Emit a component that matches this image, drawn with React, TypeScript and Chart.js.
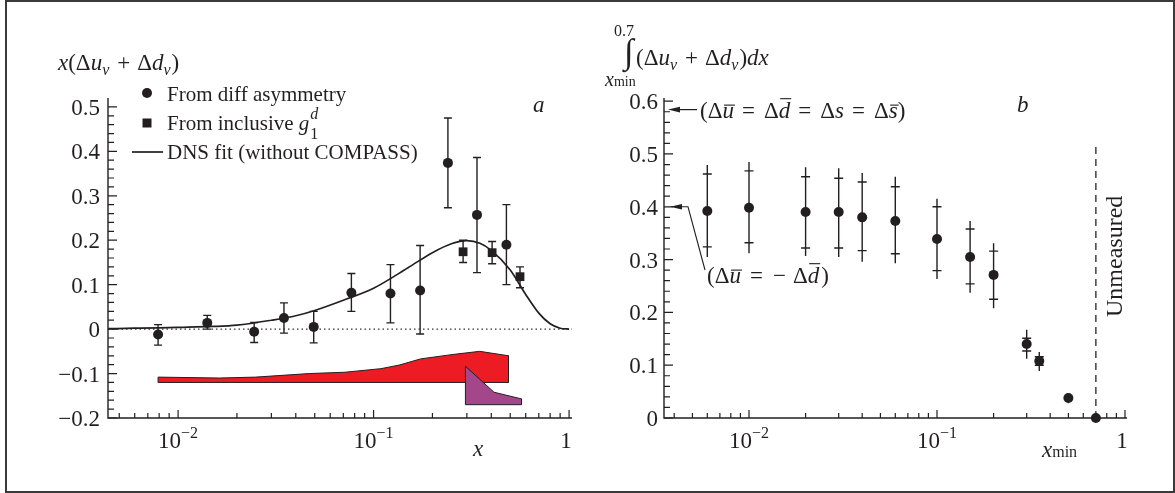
import React, { useEffect, useRef } from 'react';
import { Chart, registerables } from 'chart.js';

Chart.register(...registerables);

const SERIF = '"Liberation Serif", "Times New Roman", "DejaVu Serif", serif';
const INK = '#231f20';

// ---------- Panel a : x(Δu_v + Δd_v) ----------
const diffX = [0.0079, 0.0141, 0.0245, 0.0348, 0.0494, 0.077, 0.122, 0.173, 0.24, 0.338, 0.478];
const diffY = [-0.012, 0.014, -0.006, 0.025, 0.005, 0.082, 0.08, 0.087, 0.374, 0.257, 0.19];
const diffHi = [0.01, 0.031, 0.015, 0.059, 0.04, 0.125, 0.145, 0.188, 0.475, 0.386, 0.28];
const diffLo = [-0.036, 0.0, -0.03, -0.009, -0.031, 0.04, 0.014, -0.011, 0.273, 0.127, 0.1];

const inclX = [0.287, 0.404, 0.561];
const inclY = [0.174, 0.172, 0.118];
const inclHi = [0.2, 0.197, 0.14];
const inclLo = [0.15, 0.147, 0.093];

const fitX = [0.0044, 0.006, 0.008, 0.01, 0.015, 0.02, 0.03, 0.04, 0.05, 0.07, 0.1, 0.15, 0.2, 0.25, 0.3, 0.35, 0.4, 0.5, 0.6, 0.7, 0.8, 0.9, 1.0];
const fitY = [0.001, 0.002, 0.003, 0.004, 0.006, 0.009, 0.02, 0.03, 0.042, 0.065, 0.092, 0.138, 0.172, 0.192, 0.199, 0.193, 0.177, 0.133, 0.078, 0.036, 0.012, 0.002, 0.0];

const redBandX = [0.0079, 0.0163, 0.0249, 0.0469, 0.0714, 0.109, 0.135, 0.174, 0.255, 0.349, 0.49, 0.49, 0.0079, 0.0079];
const redBandY = [-0.108, -0.11, -0.108, -0.1, -0.097, -0.089, -0.081, -0.067, -0.057, -0.05, -0.06, -0.12, -0.12, -0.108];
const purpleBandX = [0.295, 0.413, 0.571, 0.571, 0.295, 0.295];
const purpleBandY = [-0.0835, -0.142, -0.157, -0.17, -0.17, -0.0835];

const aXMin = 0.00438;
const aXMax = 1.035;
const aYMin = -0.2;
const aYMax = 0.52;
const aYTicks = [-0.2, -0.1, 0, 0.1, 0.2, 0.3, 0.4, 0.5];
const aYTickLabels = ['\u22120.2', '\u22120.1', '0', '0.1', '0.2', '0.3', '0.4', '0.5'];

// ---------- Panel b : integral from x_min to 0.7 ----------
const intX = [0.006, 0.01, 0.02, 0.03, 0.04, 0.06, 0.1, 0.15, 0.2, 0.3, 0.35, 0.5, 0.7];
const intY = [0.392, 0.398, 0.39, 0.39, 0.38, 0.373, 0.339, 0.305, 0.271, 0.14, 0.108, 0.038, 0];
const statHi = [0.462, 0.468, 0.457, 0.454, 0.447, 0.438, 0.4, 0.358, 0.316, 0.151, 0.116, null, null];
const statLo = [0.324, 0.332, 0.322, 0.322, 0.317, 0.311, 0.279, 0.254, 0.225, 0.127, 0.1, null, null];
const totHi = [0.479, 0.485, 0.475, 0.473, 0.464, 0.457, 0.415, 0.373, 0.331, 0.167, 0.125, 0.047, null];
const totLo = [0.305, 0.312, 0.307, 0.305, 0.296, 0.293, 0.263, 0.237, 0.208, 0.112, 0.089, 0.028, null];

const unmeasuredX = 0.7;
const unmeasuredTop = 0.52;
const arrowSymY = 0.584;
const arrowAntiY = 0.4;

const bXMin = 0.00353;
const bXMax = 1.025;
const bYMin = 0;
const bYMax = 0.606;
const bYTicks = [0, 0.1, 0.2, 0.3, 0.4, 0.5, 0.6];
const bYTickLabels = ['0', '0.1', '0.2', '0.3', '0.4', '0.5', '0.6'];

const xDecadeTicks = [0.01, 0.1, 1];
const xDecadeBase = ['10', '10', '1'];
const xDecadeExp = ['\u22122', '\u22121', ''];

type Run = { t: string; it?: boolean; sub?: boolean; sup?: boolean; bar?: number; s?: number; gap?: number };

function fnt(size: number, it?: boolean) {
  return `${it ? 'italic ' : ''}${size}px ${SERIF}`;
}

function drawRuns(ctx: CanvasRenderingContext2D, runs: Run[], x: number, y: number, size: number) {
  let cx = x;
  ctx.textAlign = 'left';
  ctx.textBaseline = 'alphabetic';
  ctx.fillStyle = INK;
  for (const r of runs) {
    const sz = r.s ?? (r.sub || r.sup ? Math.round(size * 0.68) : size);
    ctx.font = fnt(sz, r.it);
    const dy = r.sub ? size * 0.22 : r.sup ? -size * 0.42 : 0;
    const w = ctx.measureText(r.t).width;
    ctx.fillText(r.t, cx, y + dy);
    if (r.bar) {
      ctx.beginPath();
      ctx.lineWidth = 1.1;
      ctx.strokeStyle = INK;
      ctx.moveTo(cx + 1.5, y - r.bar * size);
      ctx.lineTo(cx + w + 1, y - r.bar * size);
      ctx.stroke();
    }
    cx += w + (r.gap ?? 0);
  }
  return cx;
}

function drawAxes(chart: any, yTicks: number[], yLabels: string[], labelGap: number) {
  const { ctx, chartArea: ca } = chart;
  const xs = chart.scales.x;
  const ys = chart.scales.y;
  ctx.save();
  ctx.strokeStyle = INK;
  ctx.lineWidth = 1.4;
  ctx.beginPath();
  ctx.moveTo(ca.left, ca.top);
  ctx.lineTo(ca.left, ca.bottom);
  ctx.lineTo(ca.right, ca.bottom);
  ctx.stroke();

  ctx.lineWidth = 1.2;
  ctx.beginPath();
  yTicks.forEach((v, i) => {
    const py = ys.getPixelForValue(v);
    ctx.moveTo(ca.left, py);
    ctx.lineTo(ca.left + 9, py);
    if (i < yTicks.length - 1) {
      const step = (yTicks[i + 1] - v) / 5;
      for (let k = 1; k < 5; k++) {
        const p = ys.getPixelForValue(v + k * step);
        ctx.moveTo(ca.left, p);
        ctx.lineTo(ca.left + 6, p);
      }
    }
  });
  for (let e = -3; e <= 0; e++) {
    for (let m = 1; m <= 9; m++) {
      const v = m * Math.pow(10, e);
      if (v < xs.min || v > xs.max) continue;
      const px = xs.getPixelForValue(v);
      ctx.moveTo(px, ca.bottom);
      ctx.lineTo(px, ca.bottom - (m === 1 ? 8 : 5));
    }
  }
  ctx.stroke();

  ctx.fillStyle = INK;
  ctx.font = fnt(23);
  ctx.textAlign = 'right';
  ctx.textBaseline = 'alphabetic';
  yTicks.forEach((v, i) => {
    ctx.fillText(yLabels[i], ca.left - labelGap, ys.getPixelForValue(v) + 8);
  });

  ctx.textAlign = 'left';
  xDecadeTicks.forEach((v, i) => {
    const px = xs.getPixelForValue(v);
    ctx.font = fnt(23);
    const wb = ctx.measureText(xDecadeBase[i]).width;
    ctx.font = fnt(16);
    const we = ctx.measureText(xDecadeExp[i]).width;
    const sx = px - (wb + we) / 2 - (xDecadeExp[i] ? 0 : 3);
    ctx.font = fnt(23);
    ctx.fillText(xDecadeBase[i], sx, ca.bottom + 30);
    ctx.font = fnt(16);
    ctx.fillText(xDecadeExp[i], sx + wb, ca.bottom + 20);
  });
  ctx.restore();
}

function arrowHead(ctx: CanvasRenderingContext2D, tipX: number, tipY: number, fromX: number, fromY: number) {
  const a = Math.atan2(tipY - fromY, tipX - fromX);
  const L = 12;
  const H = 2.8;
  ctx.beginPath();
  ctx.moveTo(tipX, tipY);
  ctx.lineTo(tipX - L * Math.cos(a) + H * Math.sin(a), tipY - L * Math.sin(a) - H * Math.cos(a));
  ctx.lineTo(tipX - L * Math.cos(a) - H * Math.sin(a), tipY - L * Math.sin(a) + H * Math.cos(a));
  ctx.closePath();
  ctx.fill();
}

const pts = (xs: number[], ys: number[]) => xs.map((x, i) => ({ x, y: ys[i] }));

const panelAPlugin = {
  id: 'panelA',
  beforeDatasetsDraw(chart: any) {
    const { ctx } = chart;
    const xs = chart.scales.x;
    const ys = chart.scales.y;
    ctx.save();
    ctx.strokeStyle = INK;
    ctx.lineWidth = 1.4;
    const bars = (X: number[], lo: number[], hi: number[]) => {
      X.forEach((x, i) => {
        const px = xs.getPixelForValue(x);
        const p1 = ys.getPixelForValue(lo[i]);
        const p2 = ys.getPixelForValue(hi[i]);
        ctx.beginPath();
        ctx.moveTo(px, p1);
        ctx.lineTo(px, p2);
        ctx.moveTo(px - 4, p1);
        ctx.lineTo(px + 4, p1);
        ctx.moveTo(px - 4, p2);
        ctx.lineTo(px + 4, p2);
        ctx.stroke();
      });
    };
    bars(diffX, diffLo, diffHi);
    bars(inclX, inclLo, inclHi);
    ctx.restore();
  },
  afterDraw(chart: any) {
    const { ctx } = chart;
    drawAxes(chart, aYTicks, aYTickLabels, 8);
    ctx.save();
    // axis title
    drawRuns(ctx, [
      { t: 'x', it: true }, { t: '(\u0394' }, { t: 'u', it: true }, { t: 'v', it: true, sub: true, gap: 8 },
      { t: '+', gap: 7 }, { t: '\u0394' }, { t: 'd', it: true }, { t: 'v', it: true, sub: true, gap: 1 }, { t: ')' },
    ], 58, 70, 23);
    // legend
    ctx.fillStyle = INK;
    ctx.beginPath();
    ctx.arc(147, 93, 5, 0, Math.PI * 2);
    ctx.fill();
    ctx.fillRect(142.5, 118.5, 9, 9);
    ctx.strokeStyle = INK;
    ctx.lineWidth = 1.7;
    ctx.beginPath();
    ctx.moveTo(132, 152);
    ctx.lineTo(163, 152);
    ctx.stroke();
    ctx.font = fnt(21);
    ctx.textAlign = 'left';
    ctx.textBaseline = 'alphabetic';
    ctx.fillText('From diff asymmetry', 167, 101);
    const gx = drawRuns(ctx, [{ t: 'From inclusive ' }, { t: 'g', it: true, gap: 1 }], 167, 130, 21);
    ctx.font = fnt(16, true);
    ctx.fillText('d', gx, 119);
    ctx.font = fnt(16);
    ctx.fillText('1', gx, 139);
    ctx.font = fnt(21);
    ctx.fillText('DNS fit (without COMPASS)', 167, 159);
    // panel letter and axis label
    ctx.font = fnt(23, true);
    ctx.fillText('a', 533, 112);
    ctx.fillText('x', 473, 456);
    ctx.restore();
  },
};

const panelBPlugin = {
  id: 'panelB',
  beforeDatasetsDraw(chart: any) {
    const { ctx } = chart;
    const xs = chart.scales.x;
    const ys = chart.scales.y;
    ctx.save();
    ctx.strokeStyle = INK;
    ctx.lineWidth = 1.4;
    intX.forEach((x, i) => {
      if (totHi[i] == null || totLo[i] == null) return;
      const px = xs.getPixelForValue(x);
      ctx.beginPath();
      ctx.moveTo(px, ys.getPixelForValue(totLo[i] as number));
      ctx.lineTo(px, ys.getPixelForValue(totHi[i] as number));
      if (statHi[i] != null && statLo[i] != null) {
        const a = ys.getPixelForValue(statHi[i] as number);
        const b = ys.getPixelForValue(statLo[i] as number);
        ctx.moveTo(px - 4.5, a);
        ctx.lineTo(px + 4.5, a);
        ctx.moveTo(px - 4.5, b);
        ctx.lineTo(px + 4.5, b);
      }
      ctx.stroke();
    });
    ctx.restore();
  },
  afterDraw(chart: any) {
    const { ctx, chartArea: ca } = chart;
    const ys = chart.scales.y;
    drawAxes(chart, bYTicks, bYTickLabels, 6);
    ctx.save();
    ctx.fillStyle = INK;
    ctx.strokeStyle = INK;
    // axis title: integral
    ctx.font = fnt(16);
    ctx.textAlign = 'center';
    ctx.fillText('0.7', 34, 36);
    ctx.textAlign = 'left';
    ctx.font = fnt(35);
    ctx.fillText('\u222B', 34, 63);
    drawRuns(ctx, [
      { t: '(\u0394' }, { t: 'u', it: true }, { t: 'v', it: true, sub: true, gap: 8 },
      { t: '+', gap: 7 }, { t: '\u0394' }, { t: 'd', it: true }, { t: 'v', it: true, sub: true, gap: 1 }, { t: ')' }, { t: 'dx', it: true },
    ], 46, 65, 23);
    drawRuns(ctx, [{ t: 'x', it: true, s: 20 }, { t: 'min', s: 14 }], 15, 86, 20);
    // annotation 1
    const y1 = ys.getPixelForValue(arrowSymY);
    ctx.lineWidth = 1.2;
    ctx.beginPath();
    ctx.moveTo(ca.left + 33, y1);
    ctx.lineTo(ca.left + 10, y1);
    ctx.stroke();
    arrowHead(ctx, ca.left + 4, y1, ca.left + 33, y1);
    drawRuns(ctx, [
      { t: '(\u0394' }, { t: 'u', it: true, bar: 0.56, gap: 8 }, { t: '=', gap: 9 }, { t: '\u0394' }, { t: 'd', it: true, bar: 0.84, gap: 8 },
      { t: '=', gap: 9 }, { t: '\u0394' }, { t: 's', it: true, gap: 8 }, { t: '=', gap: 9 }, { t: '\u0394' }, { t: 's', it: true, bar: 0.56 }, { t: ')' },
    ], 110, 118, 23);
    // annotation 2
    const y2 = ys.getPixelForValue(arrowAntiY);
    ctx.beginPath();
    ctx.moveTo(ca.left + 41, 270);
    ctx.lineTo(ca.left + 24, y2);
    ctx.lineTo(ca.left + 12, y2);
    ctx.stroke();
    arrowHead(ctx, ca.left + 6, y2, ca.left + 24, y2);
    drawRuns(ctx, [
      { t: '(\u0394' }, { t: 'u', it: true, bar: 0.56, gap: 9 }, { t: '=', gap: 10 }, { t: '\u2212', gap: 7 }, { t: '\u0394' },
      { t: 'd', it: true, bar: 0.84, gap: 2 }, { t: ')' },
    ], 117, 283, 23);
    // letters and labels
    ctx.font = fnt(23, true);
    ctx.fillText('b', 427, 112);
    drawRuns(ctx, [{ t: 'x', it: true, s: 23 }, { t: 'min', s: 16 }], 452, 457, 23);
    // Unmeasured
    ctx.save();
    ctx.translate(532, 317);
    ctx.rotate(-Math.PI / 2);
    ctx.font = fnt(24);
    ctx.textAlign = 'left';
    ctx.fillText('Unmeasured', 0, 0);
    ctx.restore();
    ctx.restore();
  },
};

const hiddenScale = (type: string, min: number, max: number, fit: (s: any) => void) => ({
  type,
  min,
  max,
  grid: { display: false },
  border: { display: false },
  ticks: { display: false },
  afterFit: fit,
});

export default function App() {
  const aRef = useRef<HTMLCanvasElement>(null);
  const bRef = useRef<HTMLCanvasElement>(null);

  useEffect(() => {
    const chartA = new Chart(aRef.current as HTMLCanvasElement, {
      type: 'scatter',
      data: {
        datasets: [
          { label: 'From diff asymmetry', data: pts(diffX, diffY), pointStyle: 'circle', pointRadius: 5, backgroundColor: INK, borderColor: INK, borderWidth: 0, showLine: false, clip: false },
          { label: 'From inclusive g1d', data: pts(inclX, inclY), pointStyle: 'rect', pointRadius: 6.2, backgroundColor: INK, borderColor: INK, borderWidth: 0, showLine: false, clip: false },
          { label: 'DNS fit (without COMPASS)', data: pts(fitX, fitY), showLine: true, pointRadius: 0, borderColor: INK, borderWidth: 1.7, cubicInterpolationMode: 'monotone', fill: false },
          { label: 'zero', data: [{ x: aXMin, y: 0 }, { x: aXMax, y: 0 }], showLine: true, pointRadius: 0, borderColor: '#333', borderWidth: 1.2, borderDash: [1.5, 3] },
          { label: 'purple band', data: pts(purpleBandX, purpleBandY), showLine: true, pointRadius: 0, borderColor: INK, borderWidth: 1, backgroundColor: '#a4478a', fill: 'shape' },
          { label: 'red band', data: pts(redBandX, redBandY), showLine: true, pointRadius: 0, borderColor: INK, borderWidth: 1, backgroundColor: '#ed1c24', fill: 'shape' },
        ],
      } as any,
      options: {
        responsive: false,
        animation: false,
        events: [],
        layout: { padding: { left: 0, right: 18, top: 98, bottom: 0 } },
        plugins: { legend: { display: false }, tooltip: { enabled: false } },
        scales: {
          x: hiddenScale('logarithmic', aXMin, aXMax, (s: any) => { s.height = 75; }),
          y: hiddenScale('linear', aYMin, aYMax, (s: any) => { s.width = 108; }),
        },
      } as any,
      plugins: [panelAPlugin],
    });

    const chartB = new Chart(bRef.current as HTMLCanvasElement, {
      type: 'scatter',
      data: {
        datasets: [
          { label: 'integral', data: pts(intX, intY), pointStyle: 'circle', pointRadius: 5, backgroundColor: INK, borderColor: INK, borderWidth: 0, showLine: false, clip: false },
          { label: 'unmeasured', data: [{ x: unmeasuredX, y: 0 }, { x: unmeasuredX, y: unmeasuredTop }], showLine: true, pointRadius: 0, borderColor: '#333', borderWidth: 1.4, borderDash: [7, 5] },
        ],
      } as any,
      options: {
        responsive: false,
        animation: false,
        events: [],
        layout: { padding: { left: 0, right: 48, top: 98, bottom: 0 } },
        plugins: { legend: { display: false }, tooltip: { enabled: false } },
        scales: {
          x: hiddenScale('logarithmic', bXMin, bXMax, (s: any) => { s.height = 75; }),
          y: hiddenScale('linear', bYMin, bYMax, (s: any) => { s.width = 74; }),
        },
      } as any,
      plugins: [panelBPlugin],
    });

    return () => {
      chartA.destroy();
      chartB.destroy();
    };
  }, []);

  return (
    <div style={{ position: 'absolute', left: 0, top: 0, width: 1175, height: 493, background: '#fff', overflow: 'hidden' }}>
      <div style={{ position: 'absolute', left: 5, top: 0, width: 1170, height: 493, border: '2px solid #3a3a3a', boxSizing: 'border-box' }} />
      <canvas ref={aRef} width={590} height={493} style={{ position: 'absolute', left: 0, top: 0, width: 590, height: 493 }} />
      <canvas ref={bRef} width={585} height={493} style={{ position: 'absolute', left: 590, top: 0, width: 585, height: 493 }} />
    </div>
  );
}
